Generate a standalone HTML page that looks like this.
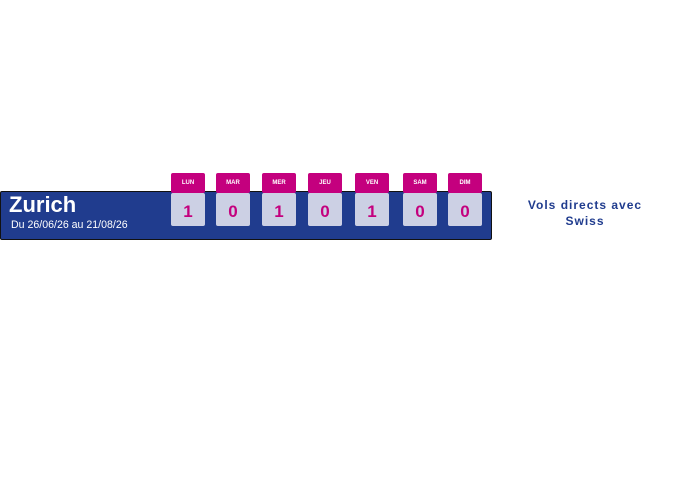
<!DOCTYPE html>
<html><head><style>
body{margin:0;width:688px;height:482px;background:#fff;position:relative;font-family:"Liberation Sans",sans-serif;overflow:hidden}
.bar{position:absolute;left:0;top:191px;width:490px;height:47px;background:#203c8e;border:1px solid #111;border-radius:2px}
.t{position:absolute;left:9px;top:192px;color:#fff;font-weight:bold;font-size:22px}
.s{position:absolute;left:11px;top:219px;color:#fff;font-size:10.6px}
.tab{position:absolute;top:173px;width:34px;height:20px;background:#c4007e;border-radius:2px;color:#fff;font-size:6px;font-weight:bold;text-align:center;line-height:20px}
.box{position:absolute;top:193px;width:34px;height:33px;background:#ccd0e4;border-radius:2px;color:#c4007e;font-size:17px;font-weight:bold;text-align:center;line-height:38px}
.r{position:absolute;left:525px;top:197px;width:120px;text-align:center;color:#203c8e;font-weight:bold;font-size:12px;line-height:16px;letter-spacing:1px}
</style></head><body>
<div class="bar"></div>
<div class="t">Zurich</div>
<div class="s">Du 26/06/26 au 21/08/26</div>
<div class="tab" style="left:171px">LUN</div><div class="box" style="left:171px">1</div>
<div class="tab" style="left:216px">MAR</div><div class="box" style="left:216px">0</div>
<div class="tab" style="left:262px">MER</div><div class="box" style="left:262px">1</div>
<div class="tab" style="left:308px">JEU</div><div class="box" style="left:308px">0</div>
<div class="tab" style="left:355px">VEN</div><div class="box" style="left:355px">1</div>
<div class="tab" style="left:403px">SAM</div><div class="box" style="left:403px">0</div>
<div class="tab" style="left:448px">DIM</div><div class="box" style="left:448px">0</div>
<div class="r">Vols directs avec<br>Swiss</div>
</body></html>
